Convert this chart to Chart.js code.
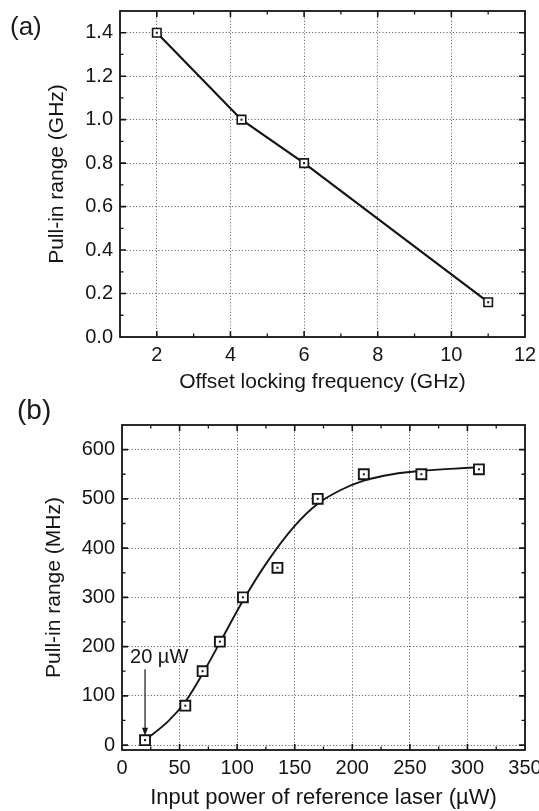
<!DOCTYPE html>
<html>
<head>
<meta charset="utf-8">
<script src="https://cdn.jsdelivr.net/npm/chart.js@4.4.1/dist/chart.umd.min.js"></script>
<style>
    body { margin: 0; background: #fff; width: 539px; height: 811px; position: relative; overflow: hidden;
           font-family: 'Liberation Sans', Arial, sans-serif; }
    .wrap { position: absolute; left: 0; width: 539px; }
    .panel { position: absolute; font-size: 26px; line-height: 1; color: #1a1a1a; }
</style>
</head>
<body>
<div class="wrap" style="top:0;height:395px"><canvas id="chartA" width="539" height="395"></canvas></div>
<div class="wrap" style="top:395px;height:416px"><canvas id="chartB" width="539" height="416"></canvas></div>
<div class="panel" style="left:10px;top:13px">(a)</div>
<div class="panel" style="left:17px;top:396px;font-size:28px">(b)</div>

<script>
// (a) pull-in range vs offset locking frequency
const offsetFreq = [2, 4.3, 6, 11];
const pullInGHz = [1.4, 1.0, 0.8, 0.16];
const xTicksA = [2, 4, 6, 8, 10, 12];
const yTicksA = [0, 0.2, 0.4, 0.6, 0.8, 1.0, 1.2, 1.4];

// (b) pull-in range vs input power of reference laser
const inputPower = [20, 55, 70, 85, 105, 135, 170, 210, 260, 310];
const pullInMHz = [10, 80, 150, 210, 300, 360, 500, 550, 550, 560];
// fitted curve
const fitPower = [20, 40, 55, 70, 85, 105, 125, 150, 170, 190, 210, 235, 260, 285, 310];
const fitPullIn = [10, 48, 88, 145, 208, 293, 368, 445, 490, 518, 537, 550, 557, 561, 564];
const xTicksB = [0, 50, 100, 150, 200, 250, 300, 350];
const yTicksB = [0, 100, 200, 300, 400, 500, 600];

// annotation in (b)
const noteText = '20 µW';
const noteTextX = 7;
const noteTextY = 178;
const noteArrowX = 20;
const noteArrowFromY = 154;
const noteArrowToY = 19;

const FONT = "'Liberation Sans', Arial, sans-serif";
const INK = '#151515';

const toPoints = (xs, ys) => xs.map((x, i) => ({ x: x, y: ys[i] }));

// frame + inward ticks on all four sides, like the original plot
const frameTicks = {
    id: 'frameTicks',
    afterDraw(chart) {
        const { ctx, chartArea: a, scales } = chart;
        ctx.save();
        ctx.strokeStyle = INK;
        const mids = (scale) => {
            const v = scale.ticks.map(t => t.value);
            const out = [];
            for (let i = 1; i < v.length; i++) out.push((v[i - 1] + v[i]) / 2);
            return out;
        };
        const drawX = (vals, len) => {
            vals.forEach(v => {
                const px = scales.x.getPixelForValue(v);
                if (px <= a.left + 1 || px >= a.right - 1) return;
                ctx.beginPath();
                ctx.moveTo(px, a.bottom); ctx.lineTo(px, a.bottom - len);
                ctx.moveTo(px, a.top); ctx.lineTo(px, a.top + len);
                ctx.stroke();
            });
        };
        const drawY = (vals, len) => {
            vals.forEach(v => {
                const py = scales.y.getPixelForValue(v);
                if (py <= a.top + 1 || py >= a.bottom - 1) return;
                ctx.beginPath();
                ctx.moveTo(a.left, py); ctx.lineTo(a.left + len, py);
                ctx.moveTo(a.right, py); ctx.lineTo(a.right - len, py);
                ctx.stroke();
            });
        };
        ctx.lineWidth = 1.6;
        drawX(scales.x.ticks.map(t => t.value), 6);
        drawY(scales.y.ticks.map(t => t.value), 6);
        ctx.lineWidth = 1.3;
        drawX(mids(scales.x), 3.5);
        drawY(mids(scales.y), 3.5);
        ctx.lineWidth = 1.8;
        ctx.strokeRect(a.left, a.top, a.right - a.left, a.bottom - a.top);
        ctx.restore();
    }
};

// small dot inside each square marker
const centerDots = {
    id: 'centerDots',
    afterDatasetsDraw(chart) {
        const ctx = chart.ctx;
        ctx.save();
        ctx.fillStyle = INK;
        chart.data.datasets.forEach((ds, i) => {
            if (!ds.dotted) return;
            chart.getDatasetMeta(i).data.forEach(pt => {
                ctx.fillRect(pt.x - 1, pt.y - 1, 2, 2);
            });
        });
        ctx.restore();
    }
};

const arrowNote = {
    id: 'arrowNote',
    afterDatasetsDraw(chart) {
        const { ctx, scales: { x, y } } = chart;
        const px = x.getPixelForValue(noteArrowX);
        const y0 = y.getPixelForValue(noteArrowFromY);
        const y1 = y.getPixelForValue(noteArrowToY);
        ctx.save();
        ctx.strokeStyle = INK;
        ctx.fillStyle = INK;
        ctx.lineWidth = 1.2;
        ctx.beginPath();
        ctx.moveTo(px, y0);
        ctx.lineTo(px, y1 - 6);
        ctx.stroke();
        ctx.beginPath();
        ctx.moveTo(px, y1);
        ctx.lineTo(px - 3, y1 - 8);
        ctx.lineTo(px + 3, y1 - 8);
        ctx.closePath();
        ctx.fill();
        ctx.font = '20px ' + FONT;
        ctx.textAlign = 'left';
        ctx.textBaseline = 'middle';
        ctx.fillText(noteText, x.getPixelForValue(noteTextX), y.getPixelForValue(noteTextY));
        ctx.restore();
    }
};

function axis(opts) {
    return {
        type: 'linear',
        min: opts.min,
        max: opts.max,
        afterBuildTicks: (s) => { s.ticks = opts.ticks.map(v => ({ value: v })); },
        afterFit: (s) => {
            if (opts.width) s.width = opts.width;
            if (opts.height) s.height = opts.height;
            s.paddingLeft = 0;
            s.paddingRight = 0;
            s.paddingTop = 0;
            s.paddingBottom = 0;
        },
        grid: { color: '#6e6e6e', lineWidth: 1, drawTicks: false },
        border: { display: false, dash: [1.2, 2] },
        ticks: {
            color: INK,
            font: { family: FONT, size: 20 },
            padding: opts.tickPad,
            maxRotation: 0,
            autoSkip: false,
            callback: opts.fmt
        },
        title: {
            display: true,
            text: opts.title,
            color: INK,
            font: { family: FONT, size: opts.titleSize || 21 },
            padding: opts.titlePad
        }
    };
}

function baseOptions(padding, scales) {
    return {
        responsive: false,
        animation: false,
        layout: { padding: padding },
        plugins: { legend: { display: false }, tooltip: { enabled: false } },
        scales: scales
    };
}

new Chart(document.getElementById('chartA'), {
    type: 'scatter',
    data: {
        datasets: [{
            data: toPoints(offsetFreq, pullInGHz),
            showLine: true,
            dotted: true,
            borderColor: INK,
            borderWidth: 2.2,
            pointStyle: 'rect',
            pointRadius: 6,
            pointBorderWidth: 1.6,
            pointBorderColor: INK,
            pointBackgroundColor: '#fff'
        }]
    },
    options: baseOptions({ top: 11, right: 14, left: 0, bottom: 0 }, {
        x: axis({ min: 1, max: 12, ticks: xTicksA, height: 58, tickPad: 6,
                  title: 'Offset locking frequency (GHz)', titlePad: { top: 0, bottom: 0 },
                  fmt: v => String(v) }),
        y: axis({ min: 0, max: 1.5, ticks: yTicksA, width: 120, tickPad: 7,
                  title: 'Pull-in range (GHz)', titlePad: { top: 45, bottom: 0 },
                  fmt: v => v.toFixed(1) })
    }),
    plugins: [frameTicks, centerDots]
});

new Chart(document.getElementById('chartB'), {
    type: 'scatter',
    data: {
        datasets: [{
            data: toPoints(inputPower, pullInMHz),
            dotted: true,
            showLine: false,
            pointStyle: 'rect',
            pointRadius: 7,
            pointBorderWidth: 1.9,
            pointBorderColor: INK,
            pointBackgroundColor: '#fff'
        }, {
            data: toPoints(fitPower, fitPullIn),
            showLine: true,
            cubicInterpolationMode: 'monotone',
            borderColor: INK,
            borderWidth: 1.9,
            pointRadius: 0
        }]
    },
    options: baseOptions({ top: 30, right: 14, left: 0, bottom: 0 }, {
        x: axis({ min: 0, max: 350, ticks: xTicksB, height: 61, tickPad: 6,
                  title: 'Input power of reference laser (µW)', titlePad: { top: 0, bottom: 0 },
                  titleSize: 22, fmt: v => String(v) }),
        y: axis({ min: -10, max: 650, ticks: yTicksB, width: 122, tickPad: 7,
                  title: 'Pull-in range (MHz)', titlePad: { top: 42, bottom: 0 },
                  fmt: v => String(v) })
    }),
    plugins: [frameTicks, centerDots, arrowNote]
});
</script>
</body>
</html>
